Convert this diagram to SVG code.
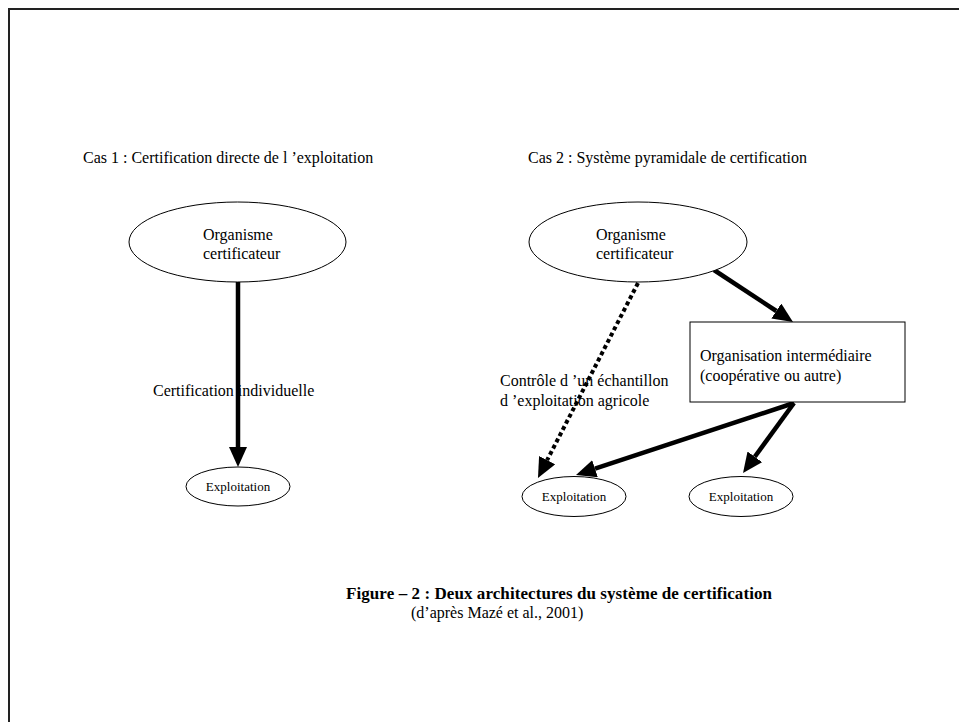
<svg xmlns="http://www.w3.org/2000/svg" width="959" height="722" viewBox="0 0 959 722">
<style>
text{font-family:"Liberation Serif","Times New Roman",serif;fill:#000}
.t16{font-size:16px}
.t13{font-size:13px}
.node{fill:#fff;stroke:#000;stroke-width:1}
.arr{fill:none;stroke:#000;stroke-width:4.5}
.dot{fill:none;stroke:#000;stroke-width:4;stroke-dasharray:4 3}
</style>
<defs>
<marker id="ah" viewBox="0 0 20 18" refX="0" refY="9" markerWidth="20" markerHeight="18" markerUnits="userSpaceOnUse" orient="auto">
<path d="M0,0 L20,9 L0,18 z" fill="#000"/>
</marker>
</defs>
<rect width="959" height="722" fill="#fff"/>
<path d="M9,722 L9,9 L959,9" fill="none" stroke="#222" stroke-width="2"/>
<text class="t16" x="83" y="163">Cas 1 : Certification directe de l ’exploitation</text>
<text class="t16" x="528" y="163">Cas 2 : Système pyramidale de certification</text>
<g id="connectors">
<line class="arr" x1="238" y1="282" x2="238" y2="447" stroke-width="5" marker-end="url(#ah)"/>
<line class="arr" x1="714" y1="270" x2="776.3" y2="311" marker-end="url(#ah)"/>
<line class="dot" x1="638" y1="283" x2="547.1" y2="460.2" marker-end="url(#ah)"/>
<line class="arr" x1="794" y1="403" x2="595" y2="468.7" marker-end="url(#ah)"/>
<line class="arr" x1="794" y1="403" x2="754.8" y2="456.8" marker-end="url(#ah)"/>
<text class="t16" x="153" y="396">Certification individuelle</text>
<text class="t16" x="500" y="386">Contrôle d ’un échantillon</text>
<text class="t16" x="500" y="406">d ’exploitation agricole</text>
</g>
<g id="org1">
<ellipse class="node" cx="237.5" cy="242" rx="108.5" ry="40"/>
<text class="t16" x="203" y="240">Organisme</text>
<text class="t16" x="203" y="259">certificateur</text>
</g>
<g id="org2">
<ellipse class="node" cx="638" cy="242" rx="109" ry="40"/>
<text class="t16" x="596" y="240">Organisme</text>
<text class="t16" x="596" y="259">certificateur</text>
</g>
<g id="inter">
<rect class="node" x="690" y="322" width="215" height="80"/>
<text class="t16" x="700" y="361">Organisation intermédiaire</text>
<text class="t16" x="700" y="381">(coopérative ou autre)</text>
</g>
<g id="exp1">
<ellipse class="node" cx="238" cy="486.5" rx="52" ry="19.5"/>
<text class="t13" x="238" y="491" text-anchor="middle">Exploitation</text>
</g>
<g id="exp2">
<ellipse class="node" cx="574" cy="496.5" rx="52" ry="20"/>
<text class="t13" x="574" y="501" text-anchor="middle">Exploitation</text>
</g>
<g id="exp3">
<ellipse class="node" cx="741" cy="496.5" rx="52" ry="20"/>
<text class="t13" x="741" y="501" text-anchor="middle">Exploitation</text>
</g>
<text x="346" y="599" font-weight="bold" font-size="17" textLength="426">Figure – 2 : Deux architectures du système de certification</text>
<text class="t16" x="411" y="618">(d’après Mazé et al., 2001)</text>
</svg>
